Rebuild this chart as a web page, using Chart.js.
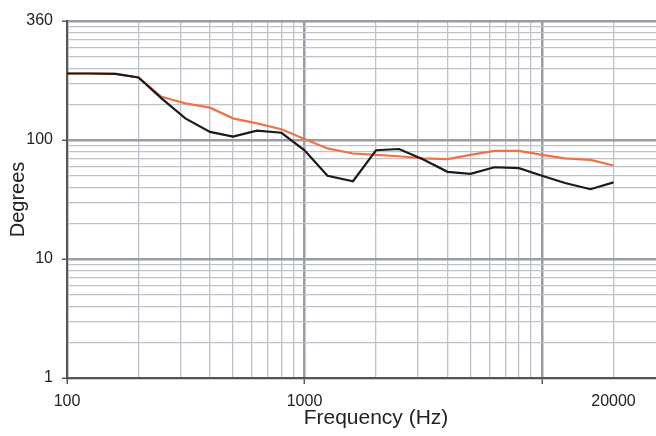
<!DOCTYPE html>
<html>
<head>
<meta charset="utf-8">
<script src="https://cdn.jsdelivr.net/npm/chart.js@4/dist/chart.umd.min.js"></script>
<style>
  html, body { margin: 0; padding: 0; background: #ffffff; overflow: hidden; }
  #wrap { position: relative; width: 690px; height: 436px; }
</style>
</head>
<body>
<div id="wrap"><canvas id="c"></canvas></div>
<script>
// ---- data ----
const frequencies = [100,125,160,200,250,315,400,500,630,800,1000,1250,1600,2000,2500,3150,4000,5000,6300,8000,10000,12500,16000,20000];
const blackSeries = [362,362,360,335,224,152,117,107,120,115,82,50,45,82,84,69,54,52,59,58,50,43.5,38.6,44];
const orangeSeries = [362,362,360,335,231,203,187,152,138,123,102,85,77,75,73,70,69,75,81,81,75,70,68,61];

const xTickValues = [100, 1000, 20000];
const xTickLabels = ['100', '1000', '20000'];
const yTickValues = [1, 10, 100, 1000];
const yTickLabels = ['1', '10', '100', '360'];

const xTitle = 'Frequency (Hz)';
const yTitle = 'Degrees';

// ---- helpers ----
function gridValues(minExp, maxExp, limit) {
  const out = [];
  for (let e = minExp; e <= maxExp; e++) {
    for (let m = 1; m <= 9; m++) {
      const v = m * Math.pow(10, e);
      if (v <= limit + 1e-9) out.push(v);
    }
  }
  return out;
}
function isDecade(v) {
  const l = Math.log10(v);
  return Math.abs(l - Math.round(l)) < 1e-9;
}
function labelFor(values, labels, v) {
  for (let i = 0; i < values.length; i++) {
    if (Math.abs(values[i] - v) / values[i] < 1e-9) return labels[i];
  }
  return '';
}
const MAJOR = '#9a9ca4';
const MINOR = '#bfc1c8';
const FONT = 'Liberation Sans, Arial, Helvetica, sans-serif';

const xGrid = gridValues(2, 4, 20000);
const yGrid = gridValues(0, 3, 1000);

const toPts = (arr) => frequencies.map((f, i) => ({ x: f, y: arr[i] }));

new Chart(document.getElementById('c'), {
  type: 'line',
  data: {
    datasets: [
      {
        label: 'black',
        data: toPts(blackSeries),
        borderColor: '#1a1a1a',
        borderWidth: 2.2,
        pointRadius: 0,
        tension: 0,
        fill: false
      },
      {
        label: 'orange',
        data: toPts(orangeSeries),
        borderColor: '#ec7447',
        borderWidth: 2.2,
        pointRadius: 0,
        tension: 0,
        fill: false
      }
    ]
  },
  options: {
    responsive: true,
    maintainAspectRatio: false,
    animation: false,
    events: [],
    layout: { padding: { left: 0, right: 5, top: 21, bottom: 0 } },
    plugins: { legend: { display: false }, tooltip: { enabled: false } },
    scales: {
      x: {
        type: 'logarithmic',
        min: 100,
        max: 40000,
        afterBuildTicks: (s) => { s.ticks = xGrid.map(v => ({ value: v })); },
        afterFit: (s) => { s.height = 58; },
        ticks: {
          autoSkip: false,
          maxRotation: 0,
          padding: 8,
          color: '#222222',
          font: { family: FONT, size: 16 },
          callback: (v) => labelFor(xTickValues, xTickLabels, v)
        },
        grid: {
          color: (ctx) => ctx.tick && isDecade(ctx.tick.value) ? MAJOR : MINOR,
          lineWidth: (ctx) => ctx.tick && isDecade(ctx.tick.value) ? 2.5 : 1.3,
          tickLength: 6,
          tickColor: (ctx) => ctx.tick && isDecade(ctx.tick.value) ? '#444444' : 'rgba(0,0,0,0)',
          tickWidth: 1.3
        },
        border: { display: true, color: '#555555', width: 2 },
        title: {
          display: true,
          text: xTitle,
          color: '#222222',
          font: { family: FONT, size: 21 },
          padding: { top: 0, bottom: 5 }
        }
      },
      y: {
        type: 'logarithmic',
        min: 1,
        max: 1000,
        afterBuildTicks: (s) => { s.ticks = yGrid.map(v => ({ value: v })); },
        afterFit: (s) => { s.width = 67; },
        ticks: {
          autoSkip: false,
          padding: 9,
          color: '#222222',
          font: { family: FONT, size: 16 },
          callback: (v) => labelFor(yTickValues, yTickLabels, v)
        },
        grid: {
          color: (ctx) => ctx.tick && isDecade(ctx.tick.value) ? MAJOR : MINOR,
          lineWidth: (ctx) => ctx.tick && isDecade(ctx.tick.value) ? 2.5 : 1.3,
          tickLength: 5,
          tickColor: (ctx) => ctx.tick && isDecade(ctx.tick.value) ? '#444444' : 'rgba(0,0,0,0)',
          tickWidth: 1.3
        },
        border: { display: true, color: '#555555', width: 2 },
        title: {
          display: true,
          text: yTitle,
          color: '#222222',
          font: { family: FONT, size: 20 },
          padding: { top: 6, bottom: 0 }
        }
      }
    }
  }
});
</script>
</body>
</html>
